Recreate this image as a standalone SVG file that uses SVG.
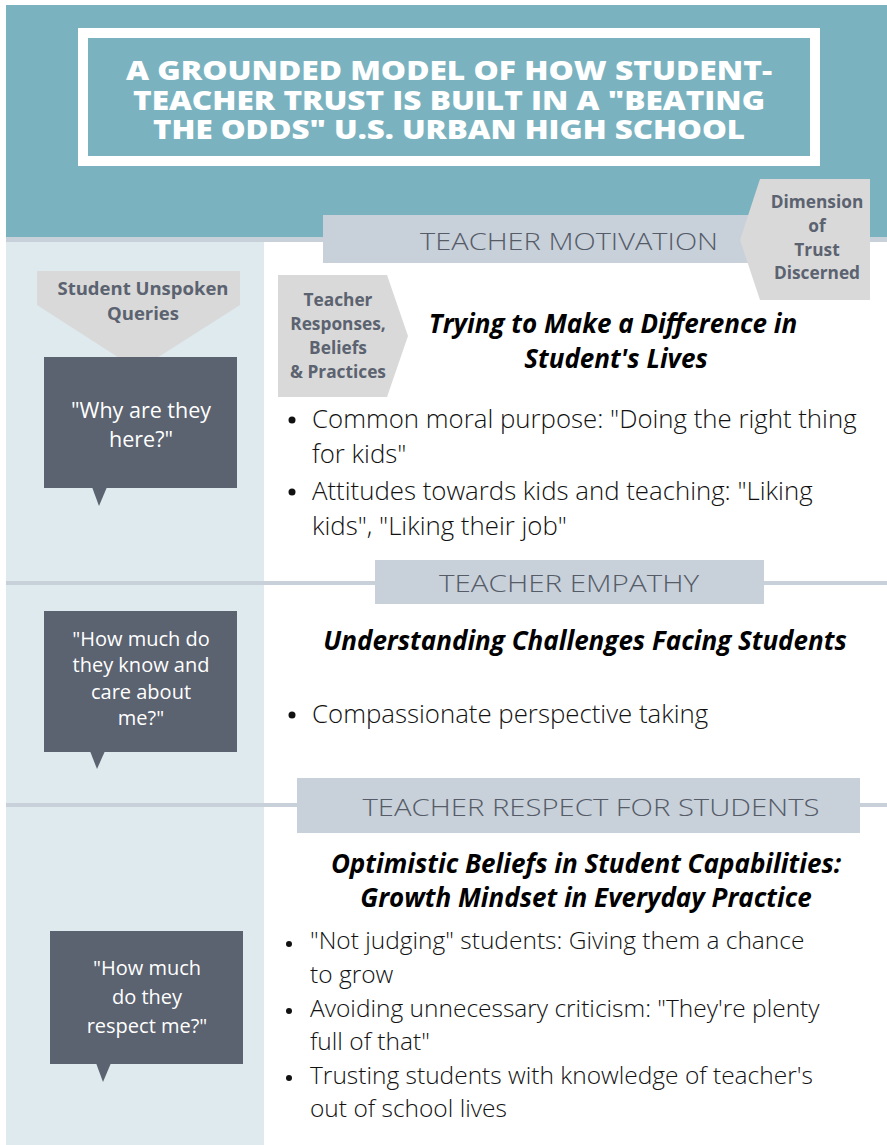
<svg xmlns="http://www.w3.org/2000/svg" width="887" height="1145" viewBox="0 0 887 1145">
<style>
.title{font-family:"Open Sans","Liberation Sans",sans-serif;font-weight:800;font-size:26px;fill:#ffffff;text-anchor:middle}
.banner{fill:#c8d0da}
.btxt{font-family:"Open Sans","Liberation Sans",sans-serif;font-weight:300;font-size:24px;fill:#555c68;text-anchor:middle}
.pent{fill:#d9d9d9}
.ptxt{font-family:"Open Sans","Liberation Sans",sans-serif;font-weight:700;font-size:17.3px;fill:#5b6270;text-anchor:middle}
.ptxt2{font-family:"Open Sans","Liberation Sans",sans-serif;font-weight:700;font-size:18.5px;fill:#5b6270;text-anchor:middle}
.box{fill:#5b6270}
.qtxt{font-family:"Open Sans","Liberation Sans",sans-serif;font-weight:400;font-size:20px;fill:#ffffff;text-anchor:middle}
.head{font-family:"Open Sans","Liberation Sans",sans-serif;font-weight:700;font-style:italic;font-size:26px;fill:#000000;text-anchor:middle}
.bul{font-family:"Open Sans","Liberation Sans",sans-serif;font-weight:300;font-size:25.8px;fill:#111111}
.bul3{font-family:"Open Sans","Liberation Sans",sans-serif;font-weight:300;font-size:24.5px;fill:#111111}
.dot{fill:#111111}
.div{stroke:#c8d0da;stroke-width:4}
</style>
<rect x="0" y="0" width="887" height="1145" fill="#ffffff"/>
<rect x="6" y="5" width="881" height="233" fill="#7ab3bf"/>
<rect x="6" y="237" width="881" height="5" fill="#c8d0da"/>
<rect x="6" y="242" width="258" height="903" fill="#deeaee"/>
<g id="connectors">
<line class="div" x1="6" y1="583" x2="887" y2="583"/>
<line class="div" x1="6" y1="805" x2="887" y2="805"/>
</g>
<g id="title">
<rect x="83" y="33" width="732" height="128" fill="#7ab3bf" stroke="#ffffff" stroke-width="10"/>
<text class="title" x="449" y="80" textLength="646" lengthAdjust="spacingAndGlyphs">A GROUNDED MODEL OF HOW STUDENT-</text>
<text class="title" x="449" y="110" textLength="632" lengthAdjust="spacingAndGlyphs">TEACHER TRUST IS BUILT IN A "BEATING</text>
<text class="title" x="449" y="139" textLength="592" lengthAdjust="spacingAndGlyphs">THE ODDS" U.S. URBAN HIGH SCHOOL</text>
</g>
<g id="banner-motivation">
<rect class="banner" x="323" y="215" width="427" height="48"/>
<text class="btxt" x="569" y="250" textLength="298" lengthAdjust="spacingAndGlyphs">TEACHER MOTIVATION</text>
</g>
<g id="dimension">
<polygon class="pent" points="760,179 870,179 870,300 760,300 740,240"/>
<text class="ptxt" x="817" y="208">Dimension</text>
<text class="ptxt" x="817" y="232">of</text>
<text class="ptxt" x="817" y="256">Trust</text>
<text class="ptxt" x="817" y="279">Discerned</text>
</g>
<g id="student-queries">
<polygon class="pent" points="37,271 240,271 240,305 138,370 37,305"/>
<text class="ptxt2" x="143" y="295">Student Unspoken</text>
<text class="ptxt2" x="143" y="320">Queries</text>
</g>
<g id="teacher-responses">
<polygon class="pent" points="278,275 387,275 408,336 387,397 278,397"/>
<text class="ptxt" x="338" y="306">Teacher</text>
<text class="ptxt" x="338" y="330">Responses,</text>
<text class="ptxt" x="338" y="354">Beliefs</text>
<text class="ptxt" x="338" y="378">&amp; Practices</text>
</g>
<g id="q1">
<rect class="box" x="44" y="357" width="193" height="131"/>
<polygon class="box" points="92,487 107,487 99,506"/>
<text class="qtxt" x="141" y="418" style="font-size:21.5px">"Why are they</text>
<text class="qtxt" x="141" y="447" style="font-size:21.5px">here?"</text>
</g>
<g id="motivation-content">
<text class="head" x="613" y="333">Trying to Make a Difference in</text>
<text class="head" x="616" y="368">Student's Lives</text>
<circle class="dot" cx="292" cy="420" r="3.5"/>
<text class="bul" x="312" y="428">Common moral purpose: "Doing the right thing</text>
<text class="bul" x="312" y="463">for kids"</text>
<circle class="dot" cx="292" cy="492" r="3.5"/>
<text class="bul" x="312" y="500">Attitudes towards kids and teaching: "Liking</text>
<text class="bul" x="312" y="535">kids", "Liking their job"</text>
</g>
<g id="banner-empathy">
<rect class="banner" x="375" y="560" width="389" height="44"/>
<text class="btxt" x="569" y="592" textLength="260" lengthAdjust="spacingAndGlyphs">TEACHER EMPATHY</text>
</g>
<g id="q2">
<rect class="box" x="44" y="611" width="193" height="141"/>
<polygon class="box" points="90,751 105,751 97,769"/>
<text class="qtxt" x="141" y="646">"How much do</text>
<text class="qtxt" x="141" y="672">they know and</text>
<text class="qtxt" x="141" y="699">care about</text>
<text class="qtxt" x="141" y="725">me?"</text>
</g>
<g id="empathy-content">
<text class="head" x="585" y="650">Understanding Challenges Facing Students</text>
<circle class="dot" cx="292" cy="715" r="3.5"/>
<text class="bul" x="312" y="723">Compassionate perspective taking</text>
</g>
<g id="banner-respect">
<rect class="banner" x="297" y="778" width="563" height="55"/>
<text class="btxt" x="591" y="816" textLength="457" lengthAdjust="spacingAndGlyphs">TEACHER RESPECT FOR STUDENTS</text>
</g>
<g id="q3">
<rect class="box" x="50" y="931" width="193" height="133"/>
<polygon class="box" points="96,1063 111,1063 103,1082"/>
<text class="qtxt" x="147" y="975">"How much</text>
<text class="qtxt" x="147" y="1004">do they</text>
<text class="qtxt" x="147" y="1033">respect me?"</text>
</g>
<g id="respect-content">
<text class="head" x="586" y="873">Optimistic Beliefs in Student Capabilities:</text>
<text class="head" x="586" y="907">Growth Mindset in Everyday Practice</text>
<circle class="dot" cx="289" cy="944" r="3"/>
<text class="bul3" x="310" y="949">"Not judging" students: Giving them a chance</text>
<text class="bul3" x="310" y="983">to grow</text>
<circle class="dot" cx="289" cy="1011" r="3"/>
<text class="bul3" x="310" y="1017">Avoiding unnecessary criticism: "They're plenty</text>
<text class="bul3" x="310" y="1050">full of that"</text>
<circle class="dot" cx="289" cy="1078" r="3"/>
<text class="bul3" x="310" y="1084">Trusting students with knowledge of teacher's</text>
<text class="bul3" x="310" y="1117">out of school lives</text>
</g>
</svg>
